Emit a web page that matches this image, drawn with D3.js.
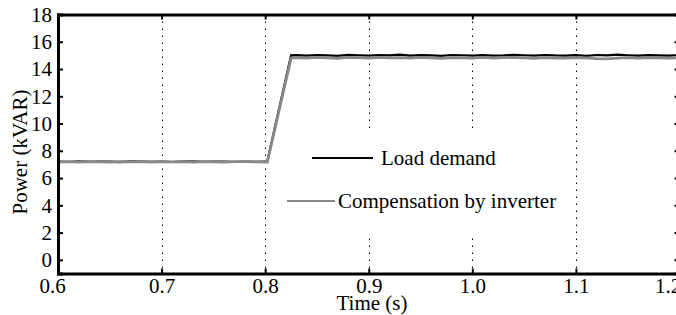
<!DOCTYPE html>
<html>
<head>
<meta charset="utf-8">
<script src="https://cdn.jsdelivr.net/npm/d3@7"></script>
<style>
  body { margin: 0; background: #fff; }
  svg text { font-family: "Liberation Serif", "Times New Roman", Times, serif !important; }
</style>
</head>
<body>
<div id="chart"></div>
<script>
// Données
const time = [0.60, 0.61, 0.62, 0.63, 0.64, 0.65, 0.66, 0.67, 0.68, 0.69, 0.70,
              0.71, 0.72, 0.73, 0.74, 0.75, 0.76, 0.77, 0.78, 0.79, 0.80,
              0.802, 0.825,
              0.83, 0.84, 0.85, 0.86, 0.87, 0.88, 0.89, 0.90, 0.91, 0.92,
              0.93, 0.94, 0.95, 0.96, 0.97, 0.98, 0.99, 1.00, 1.01, 1.02,
              1.03, 1.04, 1.05, 1.06, 1.07, 1.08, 1.09, 1.10, 1.11, 1.12,
              1.13, 1.14, 1.15, 1.16, 1.17, 1.18, 1.19, 1.20];

const loadDemand = [7.20, 7.18, 7.22, 7.19, 7.21, 7.20, 7.17, 7.22, 7.20, 7.19, 7.21,
                    7.18, 7.20, 7.22, 7.19, 7.20, 7.21, 7.18, 7.20, 7.19, 7.20,
                    7.20, 15.00,
                    15.02, 14.98, 15.03, 15.00, 14.97, 15.04, 15.01, 14.99, 15.03, 15.00,
                    15.05, 14.98, 15.02, 15.00, 14.97, 15.03, 15.01, 14.99, 15.02, 14.98,
                    15.00, 15.04, 15.01, 14.98, 15.03, 15.00, 14.99, 15.02, 14.97, 15.03,
                    15.00, 15.05, 15.01, 14.98, 15.02, 15.00, 14.99, 15.02];

const compensation = [7.19, 7.20, 7.18, 7.21, 7.19, 7.18, 7.20, 7.19, 7.21, 7.18, 7.20,
                      7.19, 7.21, 7.18, 7.20, 7.19, 7.18, 7.20, 7.21, 7.19, 7.18,
                      7.18, 14.80,
                      14.84, 14.80, 14.86, 14.82, 14.79, 14.85, 14.83, 14.81, 14.86, 14.82,
                      14.84, 14.80, 14.85, 14.82, 14.79, 14.84, 14.82, 14.80, 14.85, 14.81,
                      14.83, 14.86, 14.82, 14.79, 14.84, 14.81, 14.80, 14.84, 14.82, 14.76,
                      14.74, 14.80, 14.83, 14.80, 14.84, 14.82, 14.80, 14.83];

const xTicks = [0.6, 0.7, 0.8, 0.9, 1.0, 1.1, 1.2];
const yTicks = [0, 2, 4, 6, 8, 10, 12, 14, 16, 18];
const seriesNames = ["Load demand", "Compensation by inverter"];
const seriesColors = ["#000000", "#888888"];

const FONT = "'Liberation Serif', 'Times New Roman', serif";
const FS = 21;

// Dimensions
const W = 676, H = 315;
const plot = { left: 58, right: 679.5, top: 14.5, bottom: 273.5 };

const svg = d3.select("#chart").append("svg")
    .attr("width", W)
    .attr("height", H)
    .attr("font-family", FONT);

const x = d3.scaleLinear().domain([0.6, 1.2]).range([plot.left, plot.right]);
const y = d3.scaleLinear().domain([-1, 18]).range([plot.bottom, plot.top]);

// Grille verticale en pointillés
svg.append("g")
    .selectAll("line")
    .data(xTicks.slice(1, -1))
    .enter().append("line")
    .attr("x1", d => Math.round(x(d)) + 0.5)
    .attr("x2", d => Math.round(x(d)) + 0.5)
    .attr("y1", plot.top)
    .attr("y2", plot.bottom)
    .attr("stroke", "#000")
    .attr("stroke-width", 1)
    .attr("stroke-dasharray", "1.5,5.5");

// Courbes
const line = d3.line()
    .x((d, i) => x(time[i]))
    .y(d => y(d));

svg.append("path")
    .datum(loadDemand)
    .attr("fill", "none")
    .attr("stroke", seriesColors[0])
    .attr("stroke-width", 2.2)
    .attr("d", line);

svg.append("path")
    .datum(compensation)
    .attr("fill", "none")
    .attr("stroke", seriesColors[1])
    .attr("stroke-width", 2.8)
    .attr("d", line);

// Légende (fond blanc sans bordure)
svg.append("rect")
    .attr("x", 283).attr("y", 130)
    .attr("width", 284).attr("height", 107)
    .attr("fill", "#fff");

const legendRows = [
  { x1: 312, x2: 373, y: 158, tx: 381 },
  { x1: 287, x2: 335, y: 201, tx: 338 }
];
legendRows.forEach((r, i) => {
  svg.append("line")
      .attr("x1", r.x1).attr("x2", r.x2)
      .attr("y1", r.y).attr("y2", r.y)
      .attr("stroke", seriesColors[i])
      .attr("stroke-width", 2);
  svg.append("text")
      .attr("x", r.tx)
      .attr("y", r.y)
      .attr("dy", "0.35em")
      .attr("font-family", FONT)
      .attr("font-size", FS)
      .text(seriesNames[i]);
});

// Axes
const axisBottom = svg.append("g")
    .attr("transform", `translate(0,${plot.bottom})`)
    .call(d3.axisBottom(x).tickValues(xTicks).tickSize(-5).tickPadding(5)
        .tickFormat(d3.format(".1f")));

const axisTop = svg.append("g")
    .attr("transform", `translate(0,${plot.top})`)
    .call(d3.axisTop(x).tickValues(xTicks).tickSize(-5).tickFormat(""));

const axisLeft = svg.append("g")
    .attr("transform", `translate(${plot.left},0)`)
    .call(d3.axisLeft(y).tickValues(yTicks).tickSize(-5).tickPadding(6));

const axisRight = svg.append("g")
    .attr("transform", `translate(${plot.right},0)`)
    .call(d3.axisRight(y).tickValues(yTicks).tickSize(-5).tickFormat(""));

[axisBottom, axisTop, axisLeft, axisRight].forEach(g => {
  g.attr("font-family", FONT).attr("font-size", FS);
  g.select(".domain").attr("stroke", "#000").attr("stroke-width", 3);
  g.selectAll(".tick line").attr("stroke", "#000").attr("stroke-width", 2);
  g.selectAll("text").attr("fill", "#000");
});

// Décalage des étiquettes extrêmes comme sur l'original
axisBottom.selectAll(".tick text")
    .attr("dx", d => d === 0.6 ? -6 : (d === 1.2 ? -12 : 0));

// Titres des axes
svg.append("text")
    .attr("x", 372)
    .attr("y", 310)
    .attr("text-anchor", "middle")
    .attr("font-family", FONT)
    .attr("font-size", FS)
    .text("Time (s)");

svg.append("text")
    .attr("transform", "translate(27,152) rotate(-90)")
    .attr("text-anchor", "middle")
    .attr("font-family", FONT)
    .attr("font-size", FS)
    .text("Power (kVAR)");
</script>
</body>
</html>
